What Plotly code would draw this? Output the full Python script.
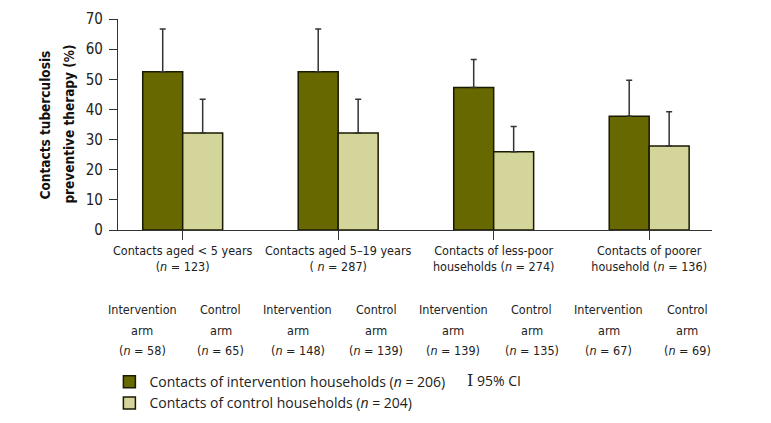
import plotly.graph_objects as go

groups = ['Contacts aged < 5 years<br>(<i>n</i> = 123)',
          'Contacts aged 5–19 years<br>( <i>n</i> = 287)',
          'Contacts of less-poor<br>households (<i>n</i> = 274)',
          'Contacts of poorer<br>household (<i>n</i> = 136)']
interv = [52.5, 52.5, 47.3, 37.7]
interv_hi = [66.7, 66.7, 56.6, 49.7]
control = [32.2, 32.2, 26.0, 27.9]
control_hi = [43.4, 43.4, 34.3, 39.2]
interv_n = [58, 148, 139, 67]
control_n = [65, 139, 135, 69]

cond = 'DejaVu Sans Condensed'
x = list(range(len(groups)))

fig = go.Figure()
fig.add_bar(x=x, y=interv, name='Contacts of intervention households (<i>n</i> = 206)',
            marker=dict(color='#686800', line=dict(color='#1a1a00', width=1.5)),
            error_y=dict(type='data', symmetric=False,
                         array=[h - v for h, v in zip(interv_hi, interv)],
                         arrayminus=[0] * 4, color='#333333', thickness=1.5, width=3))
fig.add_bar(x=x, y=control, name='Contacts of control households (<i>n</i> = 204)',
            marker=dict(color='#d3d59b', line=dict(color='#1a1a00', width=1.5)),
            error_y=dict(type='data', symmetric=False,
                         array=[h - v for h, v in zip(control_hi, control)],
                         arrayminus=[0] * 4, color='#333333', thickness=1.5, width=3))

# arm labels under each group, one annotation per line for the looser spacing
line_y = [-0.379, -0.474, -0.569]
for i in x:
    for xo, lines in [(-0.26, ['Intervention', 'arm', f'(<i>n</i> = {interv_n[i]})']),
                      (0.245, ['Control', 'arm', f'(<i>n</i> = {control_n[i]})'])]:
        for ly, t in zip(line_y, lines):
            fig.add_annotation(x=i + xo, y=ly, xref='x', yref='paper', showarrow=False,
                               text=t, font=dict(family=cond, size=12.5, color='#222'),
                               yanchor='middle')

# y axis title as two rotated lines
for xp, t in [(-0.123, 'Contacts tuberculosis'), (-0.084, 'preventive therapy (%)')]:
    fig.add_annotation(x=xp, y=0.5, xref='paper', yref='paper', showarrow=False,
                       textangle=-90, text=f'<b>{t}</b>', xanchor='center', yanchor='middle',
                       font=dict(family=cond, size=13.5, color='#111'))

fig.add_annotation(x=0.5835, y=-0.715, xref='paper', yref='paper', showarrow=False,
                   xanchor='left', yanchor='middle',
                   text='<span style="font-family:DejaVu Serif;font-size:16px">I</span> 95% CI',
                   font=dict(family='Open Sans', size=14, color='#222'))

# page body has an 8px margin, so the figure is offset to land where the reference is
fig.update_layout(
    width=771, height=423,
    margin=dict(l=110, r=67, t=11, b=201, autoexpand=False),
    plot_bgcolor='white', paper_bgcolor='white',
    barmode='group', bargap=0.486, bargroupgap=0,
    font=dict(family=cond, size=14, color='#222'),
    legend=dict(x=-0.0145, y=-0.645, xanchor='left', yanchor='top',
                font=dict(family='Open Sans', size=14, color='#222'),
                tracegroupgap=0, bgcolor='rgba(0,0,0,0)'),
    xaxis=dict(tickvals=x, ticktext=groups, range=[-0.416, 3.404], tickangle=0,
               tickfont=dict(size=12.5), automargin=False,
               showline=True, linecolor='#333', linewidth=1.3,
               ticks='outside', ticklen=9, tickcolor='#333', tickwidth=1.3,
               showgrid=False, zeroline=False),
    yaxis=dict(range=[0, 70], dtick=10, showline=True, linecolor='#333', linewidth=1.3,
               ticks='outside', ticklen=8, tickcolor='#333', tickwidth=1.3,
               tickfont=dict(size=15), ticklabelstandoff=3, automargin=False,
               showgrid=False, zeroline=False),
)

fig.write_html('out.html')
